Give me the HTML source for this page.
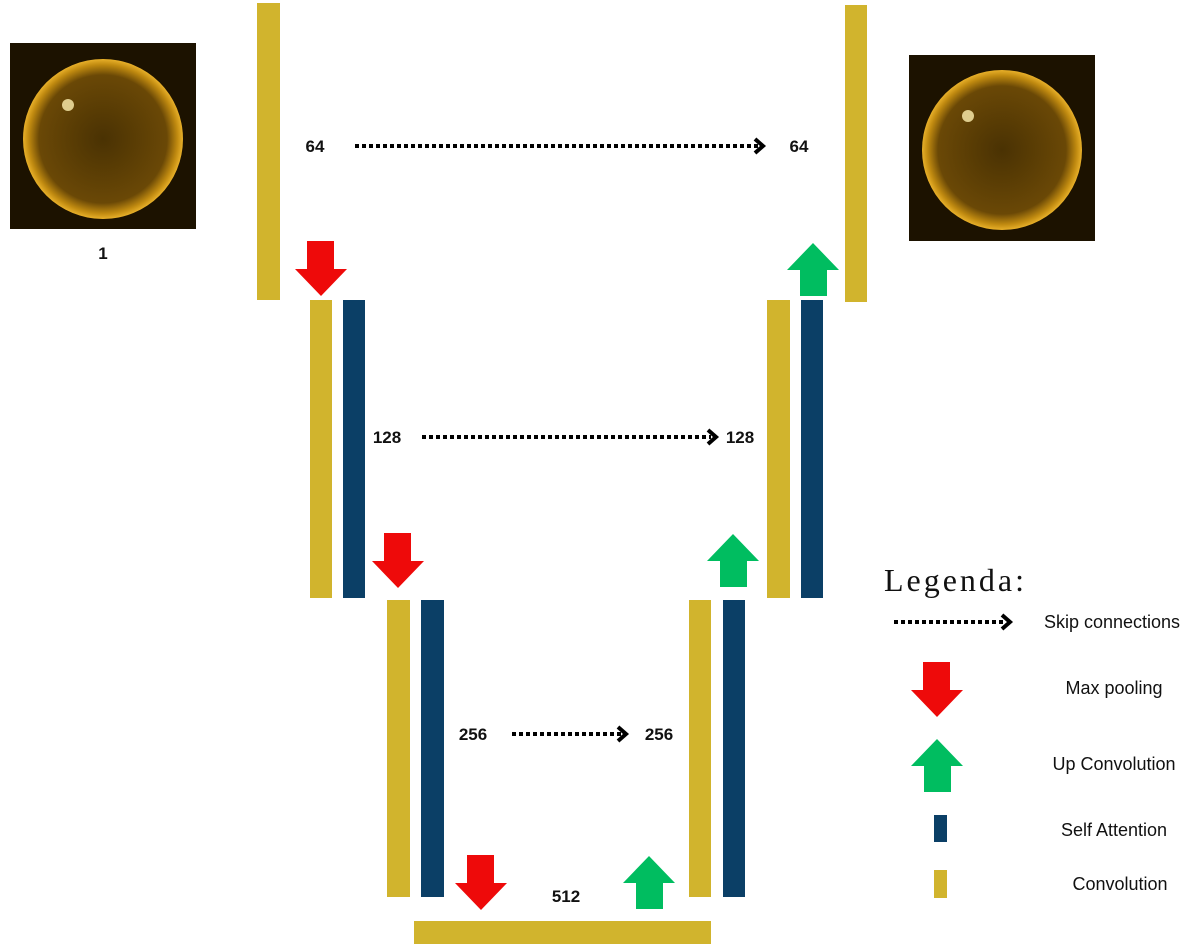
<!DOCTYPE html>
<html><head><style>
html,body{margin:0;padding:0;background:#fff;}
svg{display:block;}
.n{font-family:"Liberation Sans",sans-serif;font-weight:bold;font-size:17px;fill:#111;}
.l{font-family:"Liberation Sans",sans-serif;font-size:18px;fill:#111;}
</style></head><body>
<svg width="1200" height="949" viewBox="0 0 1200 949" xmlns="http://www.w3.org/2000/svg">
<defs>
<radialGradient id="sun" cx="50%" cy="50%" r="50%">
<stop offset="0" stop-color="#4a3203"/>
<stop offset="0.8" stop-color="#6a4806"/>
<stop offset="0.93" stop-color="#c08a10"/>
<stop offset="1" stop-color="#e8b02a"/>
</radialGradient>
<g id="down"><polygon points="12,0 39,0 39,28 52,28 26,55 0,28 12,28" fill="#ee0a0a"/></g>
<g id="up"><polygon points="26,0 52,27 40,27 40,53 13,53 13,27 0,27" fill="#00bd60"/></g>
</defs>
<rect x="10" y="43" width="186" height="186" fill="#1c1200"/>
<circle cx="103" cy="139" r="80" fill="url(#sun)"/>
<circle cx="68" cy="105" r="6" fill="#fff0b0" opacity="0.8"/>
<rect x="909" y="55" width="186" height="186" fill="#1c1200"/>
<circle cx="1002" cy="150" r="80" fill="url(#sun)"/>
<circle cx="968" cy="116" r="6" fill="#fff0b0" opacity="0.8"/>
<text class="n" x="103" y="259" text-anchor="middle">1</text>
<g fill="#d1b42d">
<rect x="257" y="3" width="23" height="297"/>
<rect x="845" y="5" width="22" height="297"/>
<rect x="310" y="300" width="22" height="298"/>
<rect x="767" y="300" width="23" height="298"/>
<rect x="387" y="600" width="23" height="297"/>
<rect x="689" y="600" width="22" height="297"/>
<rect x="414" y="921" width="297" height="23"/>
<rect x="934" y="870" width="13" height="28"/>
</g>
<g fill="#0b3f66">
<rect x="343" y="300" width="22" height="298"/>
<rect x="801" y="300" width="22" height="298"/>
<rect x="421" y="600" width="23" height="297"/>
<rect x="723" y="600" width="22" height="297"/>
<rect x="934" y="815" width="13" height="27"/>
</g>
<use href="#down" x="295" y="241"/>
<use href="#down" x="372" y="533"/>
<use href="#down" x="455" y="855"/>
<use href="#down" x="911" y="662"/>
<use href="#up" x="787" y="243"/>
<use href="#up" x="707" y="534"/>
<use href="#up" x="623" y="856"/>
<use href="#up" x="911" y="739"/>
<g stroke="#000" stroke-width="4" stroke-dasharray="4,3" fill="none">
<line x1="355" y1="146" x2="758" y2="146"/>
<line x1="422" y1="437" x2="711" y2="437"/>
<line x1="512" y1="734" x2="621" y2="734"/>
<line x1="894" y1="622" x2="1005" y2="622"/>
</g>
<g stroke="#000" stroke-width="4" fill="none">
<polyline points="755,139 763,146 755,153"/>
<polyline points="708,430 716,437 708,444"/>
<polyline points="618,727 626,734 618,741"/>
<polyline points="1002,615 1010,622 1002,629"/>
</g>
<text class="n" x="315" y="152" text-anchor="middle">64</text>
<text class="n" x="799" y="152" text-anchor="middle">64</text>
<text class="n" x="387" y="443" text-anchor="middle">128</text>
<text class="n" x="740" y="443" text-anchor="middle">128</text>
<text class="n" x="473" y="740" text-anchor="middle">256</text>
<text class="n" x="659" y="740" text-anchor="middle">256</text>
<text class="n" x="566" y="902" text-anchor="middle">512</text>
<text x="884" y="591" font-family="'Liberation Serif',serif" font-size="32" fill="#111" textLength="140">Legenda:</text>
<text class="l" x="1112" y="628" text-anchor="middle">Skip connections</text>
<text class="l" x="1114" y="694" text-anchor="middle">Max pooling</text>
<text class="l" x="1114" y="770" text-anchor="middle">Up Convolution</text>
<text class="l" x="1114" y="836" text-anchor="middle">Self Attention</text>
<text class="l" x="1120" y="890" text-anchor="middle">Convolution</text>
</svg>
</body></html>
